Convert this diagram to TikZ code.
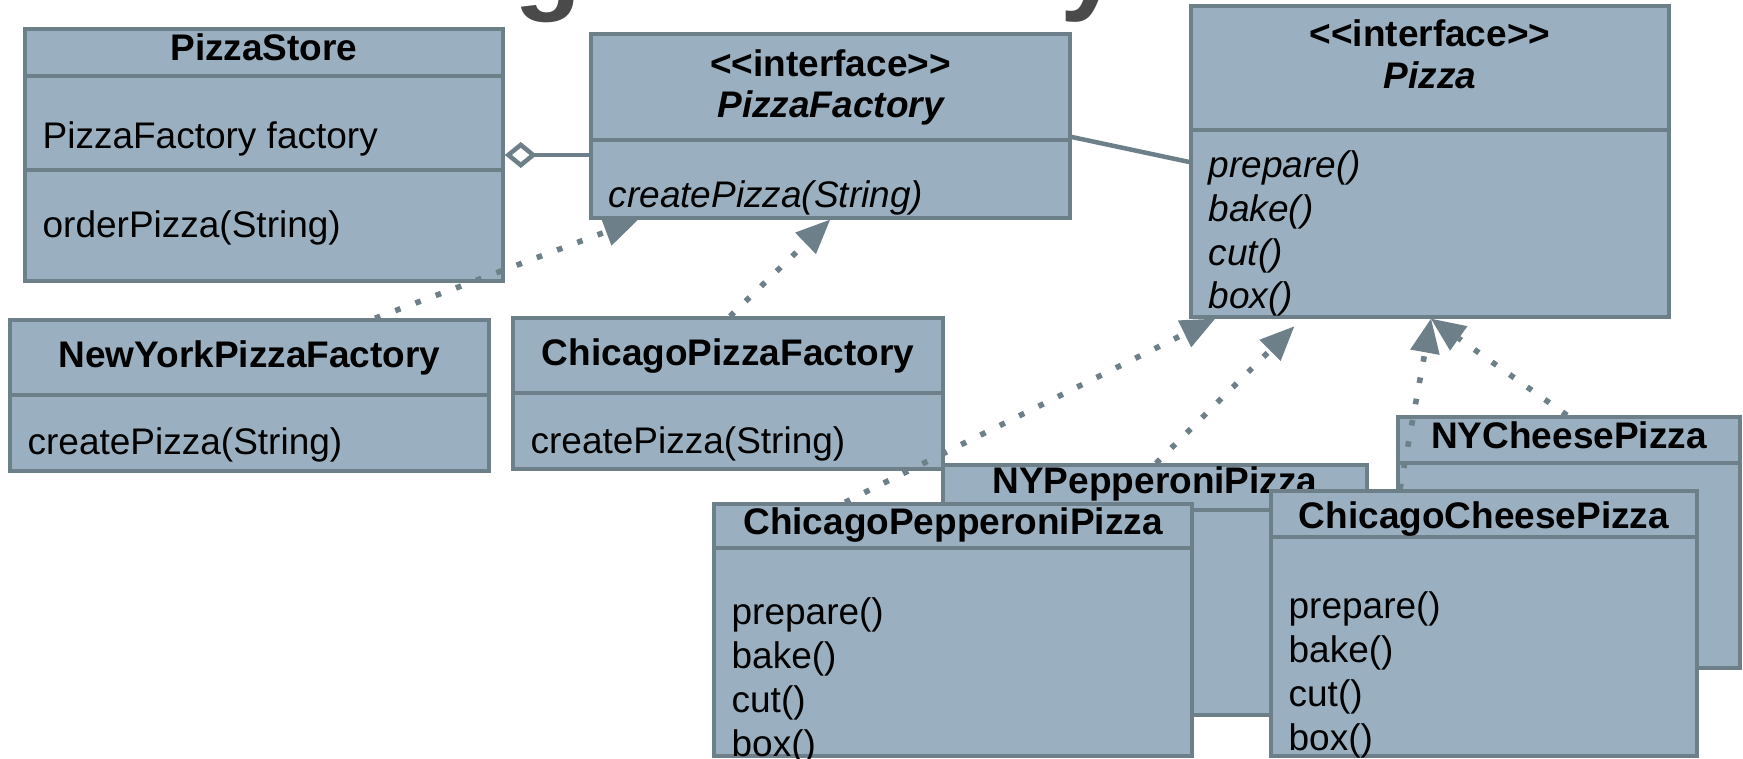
\documentclass[tikz,border=0pt]{standalone}
\usepackage{fontspec}
\setmainfont{Liberation Sans}
\usetikzlibrary{arrows.meta}
\usetikzlibrary{fit}
\usepackage{xcolor}

\definecolor{classfill}{HTML}{9AB0C0}
\definecolor{classedge}{HTML}{6D7F89}
\definecolor{headgrey}{HTML}{4A4A4A}
\newcommand\umlsize{\fontsize{18.5}{22}\selectfont}

\begin{document}
\begin{tikzpicture}[x=0.5pt,y=-0.5pt,
  classbox/.style={draw=classedge,fill=classfill,line width=1.75pt,inner sep=0pt},
  divider/.style={draw=classedge,line width=1.75pt},
  classname/.style={anchor=base,inner sep=0pt,font=\umlsize\bfseries},
  member/.style={anchor=base west,inner sep=0pt,xshift=9.5pt,font=\umlsize},
  fragment/.style={anchor=base west,inner sep=0pt,text=headgrey,font=\fontsize{55}{60}\selectfont\bfseries},
  implements/.style={draw=classedge,line width=2.8pt,dash pattern=on 2.8pt off 8pt,
    -{Triangle[length=17pt,width=15pt,line width=0pt]}},
  has/.style={draw=classedge,line width=2.25pt,{Diamond[open,length=16pt,width=13pt]}-},
  assoc/.style={draw=classedge,line width=2.25pt}]

  \useasboundingbox (0,0) rectangle (1743,759);

  % title, cut off by the top edge
  \begin{scope}
    \clip (0,0) rectangle (1743,759);
    \node[fragment] (title-g) at (514,0) {g};
    \node[fragment] (title-y) at (1060,0) {y};
  \end{scope}

  % PizzaStore
  \node[classbox,fit={(25,29) (503,281)}] (store) {};
  \draw[divider] (store.west |- 0,76) -- (store.east |- 0,76);
  \draw[divider] (store.west |- 0,170) -- (store.east |- 0,170);
  \node[classname] (store-name) at (store.north |- 0,61) {PizzaStore};
  \node[member] (store-attr) at (store.west |- 0,149) {PizzaFactory factory};
  \node[member] (store-op) at (store.west |- 0,237) {orderPizza(String)};

  % PizzaFactory
  \node[classbox,fit={(591,34) (1070,218)}] (factory) {};
  \draw[divider] (factory.west |- 0,140) -- (factory.east |- 0,140);
  \node[classname] (factory-stereo) at (factory.north |- 0,77) {{<}{<}interface{>}{>}};
  \node[classname,font=\umlsize\bfseries\itshape] (factory-name) at (factory.north |- 0,118) {PizzaFactory};
  \node[member,font=\umlsize\itshape] (factory-op) at (factory.west |- 0,207) {createPizza(String)};

  % Pizza
  \node[classbox,fit={(1191,6) (1669,317)}] (pizza) {};
  \draw[divider] (pizza.west |- 0,130) -- (pizza.east |- 0,130);
  \node[classname] (pizza-stereo) at (pizza.north |- 0,47) {{<}{<}interface{>}{>}};
  \node[classname,font=\umlsize\bfseries\itshape] (pizza-name) at (pizza.north |- 0,89) {Pizza};
  \foreach \op [count=\i from 0] in {prepare(),bake(),cut(),box()}
    \node[member,font=\umlsize\itshape,yshift=-\i*21.75pt] (pizza-op\i) at (pizza.west |- 0,178) {\op};

  % factories
  \node[classbox,fit={(10,320) (489,471)}] (nyfactory) {};
  \draw[divider] (nyfactory.west |- 0,395) -- (nyfactory.east |- 0,395);
  \node[classname] (nyfactory-name) at (nyfactory.north |- 0,367) {NewYorkPizzaFactory};
  \node[member] (nyfactory-op) at (nyfactory.west |- 0,454) {createPizza(String)};

  \node[classbox,fit={(513,318) (943,469)}] (chifactory) {};
  \draw[divider] (chifactory.west |- 0,393) -- (chifactory.east |- 0,393);
  \node[classname] (chifactory-name) at (chifactory.north |- 0,365) {ChicagoPizzaFactory};
  \node[member] (chifactory-op) at (chifactory.west |- 0,453) {createPizza(String)};

  % pizzas
  \node[classbox,fit={(943,465) (1367,715)}] (nypep) {};
  \draw[divider] (nypep.west |- 0,510) -- (nypep.east |- 0,510);
  \node[classname] (nypep-name) at (nypep.north |- 0,493) {NYPepperoniPizza};

  \node[classbox,fit={(1398,417) (1740,668)}] (nychs) {};
  \draw[divider] (nychs.west |- 0,463) -- (nychs.east |- 0,463);
  \node[classname] (nychs-name) at (nychs.north |- 0,448) {NYCheesePizza};

  \node[classbox,fit={(714,504) (1192,756)}] (chipep) {};
  \draw[divider] (chipep.west |- 0,548) -- (chipep.east |- 0,548);
  \node[classname] (chipep-name) at (chipep.north |- 0,534) {ChicagoPepperoniPizza};
  \foreach \op [count=\i from 0] in {prepare(),bake(),cut(),box()}
    \node[member,yshift=-\i*22pt] (chipep-op\i) at (chipep.west |- 0,624) {\op};

  \node[classbox,fit={(1271,491) (1697,756)}] (chichs) {};
  \draw[divider] (chichs.west |- 0,537) -- (chichs.east |- 0,537);
  \node[classname] (chichs-name) at (chichs.north |- 0,528) {ChicagoCheesePizza};
  \foreach \op [count=\i from 0] in {prepare(),bake(),cut(),box()}
    \node[member,yshift=-\i*22pt] (chichs-op\i) at (chichs.west |- 0,618) {\op};

  % relations
  \draw[has] (store.east |- 0,155) -- (factory.west |- 0,155);
  \draw[assoc] (factory.east |- 0,137) -- (pizza.west |- 0,162);
  \draw[implements] (nyfactory.north -| 375,0) -- (factory.south -| 638,0);
  \draw[implements] (chifactory.north -| 730,0) -- (factory.south -| 830,0);
  \draw[implements] (chipep.north -| 845,0) -- (pizza.south -| 1215,0);
  \draw[implements,shorten >=5.5pt] (nypep.north -| 1156,0) -- (pizza.south -| 1302,0);
  \draw[implements] (chichs.north -| 1400,0) -- (pizza.south -| 1431,0);
  \draw[implements] (nychs.north -| 1567,0) -- (pizza.south -| 1431,0);
\end{tikzpicture}
\end{document}
